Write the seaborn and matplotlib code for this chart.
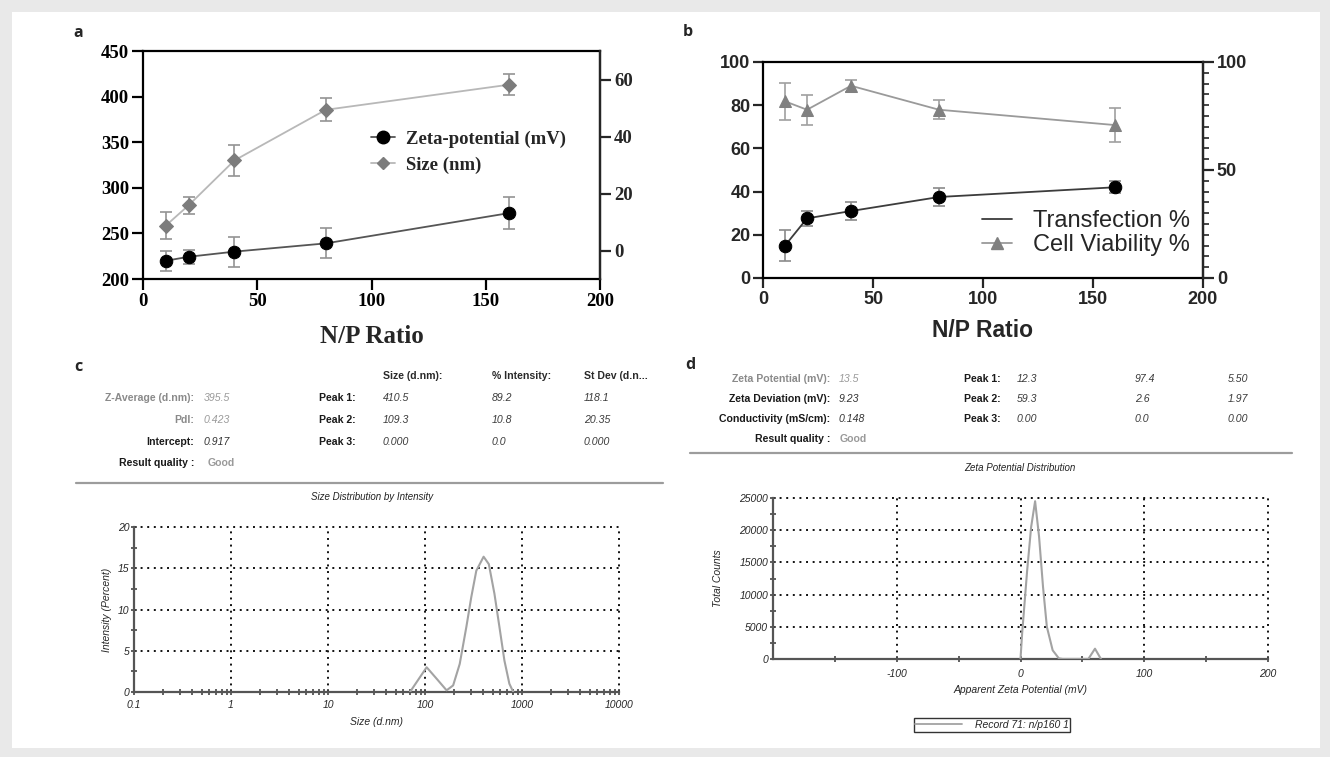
import numpy as np
import pandas as pd
import seaborn as sns
import matplotlib
matplotlib.use("Agg")
import matplotlib.pyplot as plt
from matplotlib.lines import Line2D
from matplotlib.patches import Rectangle
from matplotlib.ticker import MultipleLocator, LogLocator, NullFormatter, FixedLocator

# ---- data (a) ----
np_ratio = [10, 20, 40, 80, 160]
size_nm = [258.6, 280.9, 330.0, 385.5, 413.0]
size_err = [14.5, 9.5, 16.7, 12.6, 11.7]
zeta_mv = [-3.6, -2.2, -0.4, 2.5, 13.1]
zeta_err = [3.6, 2.5, 5.3, 5.3, 5.6]

# ---- data (b) ----
transfection = [15.0, 27.6, 31.0, 37.5, 42.0]
transfection_err = [7.0, 3.5, 4.3, 4.1, 2.8]
viability = [81.8, 77.9, 89.0, 77.9, 70.8]
viability_err = [8.5, 7.0, 2.7, 4.5, 7.8]

# ---- data (c) size distribution ----
size_dnm = [70, 104, 132, 167, 195, 228, 267, 300, 338, 402, 455, 520, 585, 659, 741, 813]
intensity_pct = [0, 3.0, 1.6, 0.2, 0.8, 3.4, 7.9, 11.5, 14.7, 16.4, 15.5, 11.9, 7.9, 3.8, 1.0, 0]

# ---- data (d) zeta distribution ----
zeta_app = [0, 1.3, 5.4, 8.6, 11.8, 15, 18.2, 21.3, 26, 31, 34, 54.8, 60.2, 65]
total_counts = [0, 3900, 13800, 20500, 24500, 19000, 11200, 5000, 1350, 100, 0, 0, 1600, 0]

# ---- tables ----
c_left_labels = ["Z-Average (d.nm):", "PdI:", "Intercept:", "Result quality :"]
c_left_values = ["395.5", "0.423", "0.917", "Good"]
c_headers = ["Size (d.nm):", "% Intensity:", "St Dev (d.n..."]
c_peaks = ["Peak 1:", "Peak 2:", "Peak 3:"]
c_peak_size = ["410.5", "109.3", "0.000"]
c_peak_int = ["89.2", "10.8", "0.0"]
c_peak_sd = ["118.1", "20.35", "0.000"]

d_left_labels = ["Zeta Potential (mV):", "Zeta Deviation (mV):", "Conductivity (mS/cm):", "Result quality :"]
d_left_values = ["13.5", "9.23", "0.148", "Good"]
d_peaks = ["Peak 1:", "Peak 2:", "Peak 3:"]
d_peak_mean = ["12.3", "59.3", "0.00"]
d_peak_area = ["97.4", "2.6", "0.0"]
d_peak_width = ["5.50", "1.97", "0.00"]

sns.set_style("ticks")
plt.rcParams['font.family'] = ['Liberation Sans', 'DejaVu Sans']
plt.rcParams['axes.unicode_minus'] = False

W, H = 1330, 757
fig = plt.figure(figsize=(W / 100, H / 100), dpi=100)
fig.patch.set_facecolor("#e9e9e9")
fig.add_artist(Rectangle((12 / W, 1 - 748 / H), (1320 - 12) / W, (748 - 12) / H,
                         transform=fig.transFigure, facecolor="white", edgecolor="none", zorder=-10))


def box(x0, y0, x1, y1):
    return [x0 / W, 1 - y1 / H, (x1 - x0) / W, (y1 - y0) / H]


def px(x, y):
    return x / W, 1 - y / H


def font_ticks(ax, family, size, weight="normal", style="normal", which="both"):
    labels = []
    if which in ("both", "x"):
        labels += ax.get_xticklabels()
    if which in ("both", "y"):
        labels += ax.get_yticklabels()
    for t in labels:
        t.set_fontfamily(family)
        t.set_fontsize(size)
        t.set_fontweight(weight)
        t.set_fontstyle(style)


serif = ['Liberation Serif', 'DejaVu Serif']
sans = ['Liberation Sans', 'DejaVu Sans']

# ================= panel a =================
ax_a = fig.add_axes(box(143, 51, 600, 279))
sns.lineplot(x=np_ratio, y=size_nm, ax=ax_a, color="#b8b8b8", linewidth=1.3,
             marker="D", markersize=7, markerfacecolor="#7c7c7c", markeredgecolor="#7c7c7c", zorder=3)
ax_a.errorbar(np_ratio, size_nm, yerr=size_err, fmt="none", ecolor="#939393",
              elinewidth=1.2, capsize=4, capthick=1.2, zorder=2)
ax_a.set_xlim(0, 200)
ax_a.set_ylim(200, 450)
ax_a.set_xticks([0, 50, 100, 150, 200])
ax_a.set_yticks([200, 250, 300, 350, 400, 450])
ax_a.tick_params(direction="out", length=8, width=1.6, pad=2, colors="black")
for s in ax_a.spines.values():
    s.set_linewidth(1.6)
    s.set_color("black")
font_ticks(ax_a, serif, 13.5, "bold")

ax_a2 = ax_a.twinx()
sns.lineplot(x=np_ratio, y=zeta_mv, ax=ax_a2, color="#555555", linewidth=1.3,
             marker="o", markersize=9, markerfacecolor="black", markeredgecolor="black", zorder=3)
ax_a2.errorbar(np_ratio, zeta_mv, yerr=zeta_err, fmt="none", ecolor="#939393",
               elinewidth=1.2, capsize=4, capthick=1.2, zorder=2)
ax_a2.set_ylim(-10, 70)
ax_a2.set_yticks([0, 20, 40, 60])
ax_a2.tick_params(direction="out", length=8, width=1.6, pad=2)
for k, s in ax_a2.spines.items():
    s.set_visible(k == "right")
    s.set_linewidth(1.6)
font_ticks(ax_a2, serif, 13.5, "bold", which="y")
ax_a.set_xlabel("N/P Ratio", fontfamily=serif, fontsize=18, fontweight="bold")
ax_a.xaxis.set_label_coords(0.5, -0.2)
ax_a.set_ylabel("")

leg_a = [
    Line2D([], [], color="#555555", lw=1.3, marker="o", markersize=9, markerfacecolor="black",
           markeredgecolor="black"),
    Line2D([], [], color="#b8b8b8", lw=1.3, marker="D", markersize=6, markerfacecolor="#7c7c7c",
           markeredgecolor="#7c7c7c"),
]
ax_a2.legend(leg_a, ["Zeta-potential (mV)", "Size (nm)"], loc="upper left",
             bbox_to_anchor=(0.475, 0.70), frameon=False, handlelength=1.25, handletextpad=0.6,
             borderpad=0.1, labelspacing=0.45,
             prop={"family": serif, "weight": "bold", "size": 13.5})

# ================= panel b =================
ax_b = fig.add_axes(box(763, 62, 1203, 278))
sns.lineplot(x=np_ratio, y=viability, ax=ax_b, color="#9a9a9a", linewidth=1.3,
             marker="^", markersize=8, markerfacecolor="#808080", markeredgecolor="#808080", zorder=3)
ax_b.errorbar(np_ratio, viability, yerr=viability_err, fmt="none", ecolor="#a0a0a0",
              elinewidth=1.2, capsize=4, capthick=1.2, zorder=2)
sns.lineplot(x=np_ratio, y=transfection, ax=ax_b, color="#3c3c3c", linewidth=1.3,
             marker="o", markersize=9, markerfacecolor="black", markeredgecolor="black", zorder=3)
ax_b.errorbar(np_ratio, transfection, yerr=transfection_err, fmt="none", ecolor="#8a8a8a",
              elinewidth=1.2, capsize=4, capthick=1.2, zorder=2)
ax_b.set_xlim(0, 200)
ax_b.set_ylim(0, 100)
ax_b.set_xticks([0, 50, 100, 150, 200])
ax_b.set_yticks([0, 20, 40, 60, 80, 100])
ax_b.tick_params(direction="out", length=7, width=1.6, pad=2)
for s in ax_b.spines.values():
    s.set_linewidth(1.6)
    s.set_color("black")
font_ticks(ax_b, sans, 13, "bold")
ax_b.set_xlabel("N/P Ratio", fontfamily=sans, fontsize=16.5, fontweight="bold")
ax_b.xaxis.set_label_coords(0.5, -0.19)

ax_b2 = ax_b.twinx()
ax_b2.set_ylim(0, 100)
ax_b2.set_yticks([0, 50, 100])
ax_b2.yaxis.set_minor_locator(MultipleLocator(5))
ax_b2.tick_params(which="major", direction="out", length=8, width=1.6, pad=2)
ax_b2.tick_params(which="minor", direction="out", length=4, width=1.2)
for k, s in ax_b2.spines.items():
    s.set_visible(k == "right")
    s.set_linewidth(1.6)
font_ticks(ax_b2, sans, 13, "bold", which="y")

leg_b = [
    Line2D([], [], color="#3c3c3c", lw=1.3),
    Line2D([], [], color="#9a9a9a", lw=1.3, marker="^", markersize=8, markerfacecolor="#808080",
           markeredgecolor="#808080"),
]
ax_b2.legend(leg_b, ["Transfection %", "Cell Viability %"], loc="upper left",
             bbox_to_anchor=(0.465, 0.38), frameon=False, handlelength=1.3, handletextpad=0.85,
             borderpad=0.1, labelspacing=0.1, prop={"family": sans, "size": 17})

# ================= panel letters =================
for lab, (x, y) in zip(["a", "b", "c", "d"], [(78, 33), (688, 32), (78, 367), (690, 365)]):
    fig.text(*px(x, y), lab, fontsize=11.5, fontweight="bold", family=['Open Sans', 'DejaVu Sans'],
             ha="center", va="center")

# ================= table c =================
tfs = 7.6
c_rows = [398, 420, 442, 463]
grey_lab, grey_val, dark = "#8a8a8a", "#9a9a9a", "#1a1a1a"
for i, y in enumerate(c_rows):
    col = grey_lab if i < 2 else dark
    fig.text(*px(194, y), c_left_labels[i], fontsize=tfs, fontweight="bold", color=col, ha="right", va="center")
    if i < 3:
        vcol = grey_val if i < 2 else "#333333"
        fig.text(*px(204, y), c_left_values[i], fontsize=tfs, style="italic", color=vcol, ha="left", va="center")
    else:
        fig.text(*px(208, y), c_left_values[i], fontsize=tfs, fontweight="bold", color=grey_val,
                 ha="left", va="center")
for j, (x, h) in enumerate(zip([383, 492, 584], c_headers)):
    fig.text(*px(x, 376), h, fontsize=tfs, fontweight="bold", color="#2a2a2a", ha="left", va="center")
for i, y in enumerate(c_rows[:3]):
    fig.text(*px(356, y), c_peaks[i], fontsize=tfs, fontweight="bold", color=dark, ha="right", va="center")
    for x, vals in zip([383, 492, 584], [c_peak_size, c_peak_int, c_peak_sd]):
        fig.text(*px(x, y), vals[i], fontsize=tfs, style="italic", color="#3a3a3a", ha="left", va="center")
fig.add_artist(Line2D([76 / W, 663 / W], [1 - 483 / H] * 2, color="#9c9c9c", lw=1.6))
fig.text(*px(372, 497), "Size Distribution by Intensity", fontsize=7, style="italic", color="#222222",
         ha="center", va="center")

# ================= table d =================
d_rows = [379, 399, 419, 439]
for i, y in enumerate(d_rows):
    col = grey_lab if i == 0 else dark
    fig.text(*px(830, y), d_left_labels[i], fontsize=tfs, fontweight="bold", color=col, ha="right", va="center")
    if i < 3:
        vcol = grey_val if i == 0 else "#333333"
        fig.text(*px(839, y), d_left_values[i], fontsize=tfs, style="italic", color=vcol, ha="left", va="center")
    else:
        fig.text(*px(840, y), d_left_values[i], fontsize=tfs, fontweight="bold", color=grey_val,
                 ha="left", va="center")
for i, y in enumerate(d_rows[:3]):
    fig.text(*px(1001, y), d_peaks[i], fontsize=tfs, fontweight="bold", color=dark, ha="right", va="center")
    for x, vals in zip([1017, 1135, 1228], [d_peak_mean, d_peak_area, d_peak_width]):
        fig.text(*px(x, y), vals[i], fontsize=tfs, style="italic", color="#3a3a3a", ha="left", va="center")
fig.add_artist(Line2D([690 / W, 1292 / W], [1 - 453 / H] * 2, color="#9c9c9c", lw=1.6))
fig.text(*px(1020, 468), "Zeta Potential Distribution", fontsize=7, style="italic", color="#222222",
         ha="center", va="center")

dots = (0, (1, 2.4))

# ================= panel c plot =================
ax_c = fig.add_axes(box(134, 527, 619, 692))
sns.lineplot(x=size_dnm, y=intensity_pct, ax=ax_c, color="#a3a3a3", linewidth=1.5, sort=False, zorder=3)
ax_c.set_xscale("log")
ax_c.set_xlim(0.1, 10000)
ax_c.set_ylim(0, 20)
ax_c.set_xticks([0.1, 1, 10, 100, 1000, 10000], ["0.1", "1", "10", "100", "1000", "10000"])
ax_c.xaxis.set_minor_locator(LogLocator(base=10, subs=np.arange(2, 10)))
ax_c.xaxis.set_minor_formatter(NullFormatter())
ax_c.set_yticks([0, 5, 10, 15, 20])
ax_c.yaxis.set_minor_locator(MultipleLocator(2.5))
ax_c.grid(True, which="major", color="#111111", linestyle=dots, linewidth=1.4)
ax_c.tick_params(which="both", direction="inout", length=5, width=1.2, color="#444444", pad=3)
ax_c.tick_params(axis="y", pad=1)
for k, s in ax_c.spines.items():
    s.set_visible(k in ("left", "bottom"))
    s.set_color("#555555")
    s.set_linewidth(1.6)
font_ticks(ax_c, sans, 7.5, style="italic")
ax_c.set_xlabel("Size (d.nm)", fontsize=7.5, style="italic", labelpad=5)
ax_c.set_ylabel("Intensity (Percent)", fontsize=7.5, style="italic", labelpad=4)

# ================= panel d plot =================
ax_d = fig.add_axes(box(773, 498, 1268, 659))
sns.lineplot(x=zeta_app, y=total_counts, ax=ax_d, color="#a3a3a3", linewidth=1.5, sort=False, zorder=3)
ax_d.set_xlim(-200, 200)
ax_d.set_ylim(0, 25000)
ax_d.set_xticks([-100, 0, 100, 200])
ax_d.xaxis.set_minor_locator(FixedLocator([-150, -50, 50, 150]))
ax_d.set_yticks([0, 5000, 10000, 15000, 20000, 25000])
ax_d.yaxis.set_minor_locator(MultipleLocator(2500))
ax_d.grid(True, which="major", color="#111111", linestyle=dots, linewidth=1.4)
ax_d.tick_params(which="both", direction="inout", length=5, width=1.2, color="#444444", pad=5)
ax_d.tick_params(axis="y", pad=1)
for k, s in ax_d.spines.items():
    s.set_visible(k in ("left", "bottom"))
    s.set_color("#555555")
    s.set_linewidth(1.6)
font_ticks(ax_d, sans, 7.5, style="italic")
ax_d.set_xlabel("Apparent Zeta Potential (mV)", fontsize=7.5, style="italic", labelpad=4)
ax_d.set_ylabel("Total Counts", fontsize=7.5, style="italic", labelpad=12)

for ax in (ax_c, ax_d):
    for gl in ax.get_xgridlines() + ax.get_ygridlines():
        gl.set_clip_on(False)

fig.legend([Line2D([], [], color="#a3a3a3", lw=1.3)], ["Record 71: n/p160 1"], loc="center",
           bbox_to_anchor=px(992, 725), frameon=True, fancybox=False, edgecolor="#333333",
           framealpha=1, handlelength=4.5, borderpad=0.15, handletextpad=1.2,
           prop={"family": sans, "size": 7.5, "style": "italic"})

fig.savefig("out.png", dpi=100, facecolor=fig.get_facecolor())
